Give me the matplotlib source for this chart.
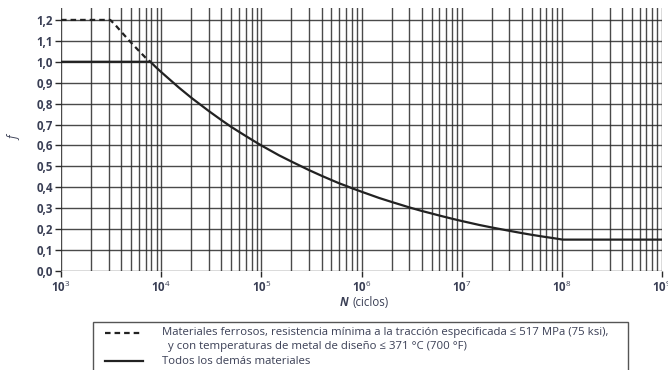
import numpy as np
import matplotlib
matplotlib.use("Agg")
import matplotlib.pyplot as plt
from matplotlib.ticker import FixedLocator, NullFormatter
from matplotlib.patches import Rectangle
from matplotlib.lines import Line2D

# Data
n_ferrous = [1e3, 3.1e3, 3.5e3, 4e3, 4.5e3, 5e3, 5.5e3, 6e3, 6.5e3, 7e3, 7.8e3]
f_ferrous = [1.20, 1.20, 1.175, 1.143, 1.116, 1.092, 1.071, 1.052, 1.035, 1.019, 1.00]

n_all = [1e3, 7.8e3, 9e3,
         1e4, 1.5e4, 2e4, 3e4, 4e4, 5e4, 6e4, 7e4, 8e4,
         1e5, 1.5e5, 2e5, 3e5, 4e5, 5e5, 6e5, 7e5, 8e5,
         1e6, 1.5e6, 2e6, 3e6, 4e6, 5e6, 6e6, 7e6, 8e6,
         1e7, 1.5e7, 2e7, 3e7, 4e7, 5e7, 6e7, 7e7, 8e7,
         1.02e8, 1e9]
f_all = [1.00, 1.00, 0.971,
         0.951, 0.877, 0.828, 0.764, 0.721, 0.689, 0.665, 0.645, 0.628,
         0.600, 0.553, 0.523, 0.482, 0.455, 0.435, 0.419, 0.407, 0.396,
         0.379, 0.349, 0.330, 0.304, 0.287, 0.275, 0.265, 0.257, 0.250,
         0.239, 0.220, 0.208, 0.192, 0.181, 0.173, 0.167, 0.162, 0.158,
         0.150, 0.150]

y_ticks = [0.0, 0.1, 0.2, 0.3, 0.4, 0.5, 0.6, 0.7, 0.8, 0.9, 1.0, 1.1, 1.2]
x_decades = [1e3, 1e4, 1e5, 1e6, 1e7, 1e8, 1e9]
x_labels = ["10$^3$", "10$^4$", "10$^5$", "10$^6$", "10$^7$", "10$^8$", "10$^9$"]

legend_line1 = "Materiales ferrosos, resistencia mínima a la tracción especificada ≤ 517 MPa (75 ksi),"
legend_line2 = "y con temperaturas de metal de diseño ≤ 371 °C (700 °F)"
legend_line3 = "Todos los demás materiales"

plt.rcParams['font.family'] = ['Open Sans', 'DejaVu Sans']
plt.rcParams['mathtext.fontset'] = 'custom'
plt.rcParams['mathtext.rm'] = 'Open Sans'
plt.rcParams['mathtext.bf'] = 'Open Sans:bold'
txt_color = '#3a3f55'

fig = plt.figure(figsize=(6.68, 3.70), dpi=100)
ax = fig.add_axes([61/668, 1-271/370, (662-61)/668, (271-8)/370])
ax.set_xscale('log')
ax.set_xlim(1e3, 1e9)
ax.set_ylim(0, 1.257)

for s in ax.spines.values():
    s.set_visible(False)

ax.xaxis.set_major_locator(FixedLocator(x_decades))
minors = [m * d for d in x_decades[:-1] for m in range(2, 10)]
ax.xaxis.set_minor_locator(FixedLocator(minors))
ax.xaxis.set_minor_formatter(NullFormatter())
ax.set_xticklabels(x_labels)
ax.yaxis.set_major_locator(FixedLocator(y_ticks))
ax.set_yticklabels([f"{v:.1f}".replace('.', ',') for v in y_ticks])
ax.yaxis.set_minor_locator(FixedLocator([]))

ax.grid(True, which='major', axis='both', color='#2a2a2a', lw=1.0, alpha=0.85)
ax.grid(True, which='minor', axis='x', color='#2a2a2a', lw=1.0, alpha=0.85)
ax.tick_params(axis='both', which='major', length=4, width=1.0, color='#2a2a2a',
               labelsize=8.3, labelcolor=txt_color, pad=2)
ax.tick_params(axis='x', which='minor', length=0)
for lab in ax.get_xticklabels() + ax.get_yticklabels():
    lab.set_fontweight('bold')
ax.set_axisbelow(True)

ax.plot(n_ferrous, f_ferrous, color='#222222', lw=1.6, ls=(0, (2.5, 1.8)), zorder=3)
ax.plot(n_all, f_all, color='#222222', lw=1.6, zorder=4)

fig.text(15/668, 1-138/370, "f", rotation=90, style='italic', fontsize=8.5,
         color=txt_color, ha='center', va='center')
# x-axis label: bold italic "N" followed by regular "(ciclos)"
fig.text(348/668, 1-302/370, "N", fontsize=8.3, style='italic', fontweight='bold',
         color=txt_color, ha='right', va='center')
fig.text(352/668, 1-302/370, "(ciclos)", fontsize=8.3,
         color=txt_color, ha='left', va='center')

# Legend box
box = Rectangle((93/668, -0.05), (628-93)/668, (0.05 + 1-322/370), transform=fig.transFigure,
                fill=False, ec='#555555', lw=1.0)
fig.add_artist(box)
fig.add_artist(Line2D([105/668, 143/668], [1-333/370]*2, transform=fig.transFigure,
                      color='#222222', lw=1.6, ls=(0, (2.5, 1.8))))
fig.add_artist(Line2D([105/668, 143/668], [1-361/370]*2, transform=fig.transFigure,
                      color='#222222', lw=1.6))
fig.text(162/668, 1-333/370, legend_line1, fontsize=8.2, color=txt_color, va='center')
fig.text(168/668, 1-347/370, legend_line2, fontsize=8.2, color=txt_color, va='center')
fig.text(162/668, 1-361/370, legend_line3, fontsize=8.2, color=txt_color, va='center')

fig.savefig("out.png", dpi=100)
